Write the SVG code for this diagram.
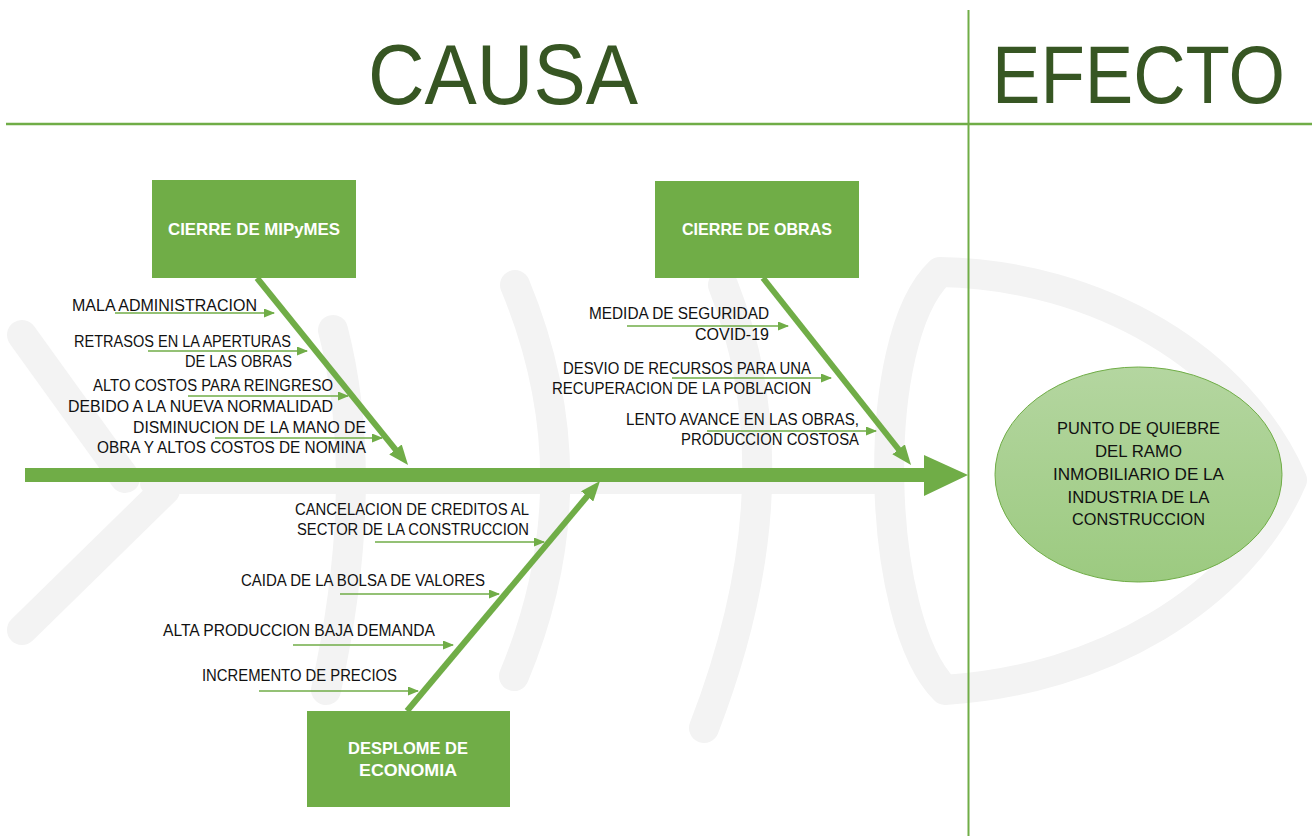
<svg xmlns="http://www.w3.org/2000/svg" width="1312" height="836" viewBox="0 0 1312 836">
<style>
.wm{fill:none;stroke:#f3f3f3;stroke-width:30;stroke-linecap:round;stroke-linejoin:round}
.rule{stroke:#70ad47;fill:none}
.title{font-family:"Liberation Sans",Arial,sans-serif;font-size:85px;fill:#375623;text-anchor:middle}
.box{fill:#70ad47}
.boxt{font-family:"Liberation Sans",Arial,sans-serif;font-size:16.5px;font-weight:bold;fill:#ffffff;text-anchor:middle}
.lbl{font-family:"Liberation Sans",Arial,sans-serif;font-size:16px;fill:#111111;text-anchor:end}
.eff{font-family:"Liberation Sans",Arial,sans-serif;font-size:17px;fill:#111111;text-anchor:middle}
.bone{stroke:#70ad47;stroke-width:6;fill:none;marker-end:url(#bigHead)}
.sub{stroke:#70ad47;stroke-width:1.3;fill:none;marker-end:url(#smallHead)}
</style>
<defs>
<marker id="bigHead" markerUnits="userSpaceOnUse" markerWidth="20" markerHeight="16" refX="4" refY="8" orient="auto" viewBox="0 0 20 16">
<path d="M0,0 L20,8 L0,16 z" fill="#70ad47"/>
</marker>
<marker id="smallHead" markerUnits="userSpaceOnUse" markerWidth="11" markerHeight="9" refX="10" refY="4.5" orient="auto" viewBox="0 0 11 9">
<path d="M0,0 L11,4.5 L0,9 z" fill="#70ad47"/>
</marker>
<linearGradient id="effGrad" x1="0" y1="0" x2="0" y2="1">
<stop offset="0" stop-color="#b4d6a0"/>
<stop offset="1" stop-color="#9cca80"/>
</linearGradient>
</defs>
<rect x="0" y="0" width="1312" height="836" fill="#ffffff"/>

<g id="watermark">
<path class="wm" d="M22,335 L125,478"/>
<path class="wm" d="M165,490 L22,630"/>
<path class="wm" d="M150,484 L880,484" style="stroke-width:20"/>
<path class="wm" d="M333,330 Q372,480 326,690"/>
<path class="wm" d="M515,285 Q596,480 514,676"/>
<path class="wm" d="M723,285 Q800,480 704,728"/>
<path class="wm" d="M940,272 C1100,275 1240,360 1292,480 C1240,600 1100,680 945,690 C875,620 868,340 940,272 Z"/>
</g>

<g id="header">
<line class="rule" x1="6" y1="124" x2="1312" y2="124" stroke-width="2.5"/>
<line class="rule" x1="968.5" y1="10" x2="968.5" y2="836" stroke-width="2"/>
<text class="title" x="503" y="104" textLength="270" lengthAdjust="spacingAndGlyphs">CAUSA</text>
<text class="title" transform="translate(1138.5,103) scale(1,1.1)" x="0" y="0" style="font-size:74px" textLength="293" lengthAdjust="spacingAndGlyphs">EFECTO</text>
</g>

<g id="connectors">
<path id="spine" d="M25,468 L924,468 L924,455 L968,475 L924,496 L924,482 L25,482 Z" fill="#70ad47"/>
<path class="bone" d="M257,278 L398,452.6"/>
<path class="bone" d="M763,278 L901.1,452.5"/>
<path class="bone" d="M407,711 L589.7,493.3"/>
<path class="sub" d="M115,313 L274,313"/>
<path class="sub" d="M148,351 L307,351"/>
<path class="sub" d="M188,396 L348,396"/>
<path class="sub" d="M215,438 L382,438"/>
<path class="sub" d="M627,326 L788,326"/>
<path class="sub" d="M672,378 L831,378"/>
<path class="sub" d="M707,431 L876,431"/>
<path class="sub" d="M375,542 L544,542"/>
<path class="sub" d="M340,594 L499,594"/>
<path class="sub" d="M293,645 L453,645"/>
<path class="sub" d="M259,691 L418,691"/>
</g>

<g id="node-mipymes">
<rect class="box" x="152" y="180" width="204" height="98"/>
<text class="boxt" x="254" y="235" textLength="172" lengthAdjust="spacingAndGlyphs">CIERRE DE MIPyMES</text>
</g>
<g id="node-obras">
<rect class="box" x="655" y="181" width="204" height="97"/>
<text class="boxt" x="757" y="235" textLength="150" lengthAdjust="spacingAndGlyphs">CIERRE DE OBRAS</text>
</g>
<g id="node-economia">
<rect class="box" x="307" y="711" width="203" height="96"/>
<text class="boxt" x="408" y="754" textLength="120" lengthAdjust="spacingAndGlyphs">DESPLOME DE</text>
<text class="boxt" x="408" y="776" textLength="98" lengthAdjust="spacingAndGlyphs">ECONOMIA</text>
</g>
<g id="node-efecto">
<ellipse cx="1138.5" cy="474.5" rx="143.5" ry="107.5" fill="url(#effGrad)" stroke="#70ad47" stroke-width="1"/>
<text class="eff" x="1138.5" y="434" textLength="163" lengthAdjust="spacingAndGlyphs">PUNTO DE QUIEBRE</text>
<text class="eff" x="1138.5" y="457" textLength="87" lengthAdjust="spacingAndGlyphs">DEL RAMO</text>
<text class="eff" x="1138.5" y="480" textLength="171" lengthAdjust="spacingAndGlyphs">INMOBILIARIO DE LA</text>
<text class="eff" x="1138.5" y="503" textLength="142" lengthAdjust="spacingAndGlyphs">INDUSTRIA DE LA</text>
<text class="eff" x="1138.5" y="525" textLength="133" lengthAdjust="spacingAndGlyphs">CONSTRUCCION</text>
</g>

<g id="cause-mala">
<text class="lbl" x="257" y="311" textLength="185" lengthAdjust="spacingAndGlyphs">MALA ADMINISTRACION</text>
</g>
<g id="cause-retrasos">
<text class="lbl" x="291" y="347" textLength="217" lengthAdjust="spacingAndGlyphs">RETRASOS EN LA APERTURAS</text>
<text class="lbl" x="292" y="367" textLength="107" lengthAdjust="spacingAndGlyphs">DE LAS OBRAS</text>
</g>
<g id="cause-costos">
<text class="lbl" x="333" y="391" textLength="240" lengthAdjust="spacingAndGlyphs">ALTO COSTOS PARA REINGRESO</text>
<text class="lbl" x="333" y="412" textLength="265" lengthAdjust="spacingAndGlyphs">DEBIDO A LA NUEVA NORMALIDAD</text>
</g>
<g id="cause-mano">
<text class="lbl" x="366" y="433" textLength="233" lengthAdjust="spacingAndGlyphs">DISMINUCION DE LA MANO DE</text>
<text class="lbl" x="366" y="453" textLength="269" lengthAdjust="spacingAndGlyphs">OBRA Y ALTOS COSTOS DE NOMINA</text>
</g>
<g id="cause-covid">
<text class="lbl" x="769" y="319" textLength="180" lengthAdjust="spacingAndGlyphs">MEDIDA DE SEGURIDAD</text>
<text class="lbl" x="769" y="340" textLength="74" lengthAdjust="spacingAndGlyphs">COVID-19</text>
</g>
<g id="cause-desvio">
<text class="lbl" x="811" y="374" textLength="248" lengthAdjust="spacingAndGlyphs">DESVIO DE RECURSOS PARA UNA</text>
<text class="lbl" x="811" y="394" textLength="259" lengthAdjust="spacingAndGlyphs">RECUPERACION DE LA POBLACION</text>
</g>
<g id="cause-lento">
<text class="lbl" x="859" y="425" textLength="233" lengthAdjust="spacingAndGlyphs">LENTO AVANCE EN LAS OBRAS,</text>
<text class="lbl" x="859" y="445" textLength="178" lengthAdjust="spacingAndGlyphs">PRODUCCION COSTOSA</text>
</g>
<g id="cause-creditos">
<text class="lbl" x="529" y="515" textLength="234" lengthAdjust="spacingAndGlyphs">CANCELACION DE CREDITOS AL</text>
<text class="lbl" x="529" y="535" textLength="232" lengthAdjust="spacingAndGlyphs">SECTOR DE LA CONSTRUCCION</text>
</g>
<g id="cause-bolsa">
<text class="lbl" x="485" y="586" textLength="244" lengthAdjust="spacingAndGlyphs">CAIDA DE LA BOLSA DE VALORES</text>
</g>
<g id="cause-demanda">
<text class="lbl" x="435" y="636" textLength="272" lengthAdjust="spacingAndGlyphs">ALTA PRODUCCION BAJA DEMANDA</text>
</g>
<g id="cause-precios">
<text class="lbl" x="397" y="681" textLength="195" lengthAdjust="spacingAndGlyphs">INCREMENTO DE PRECIOS</text>
</g>
</svg>
